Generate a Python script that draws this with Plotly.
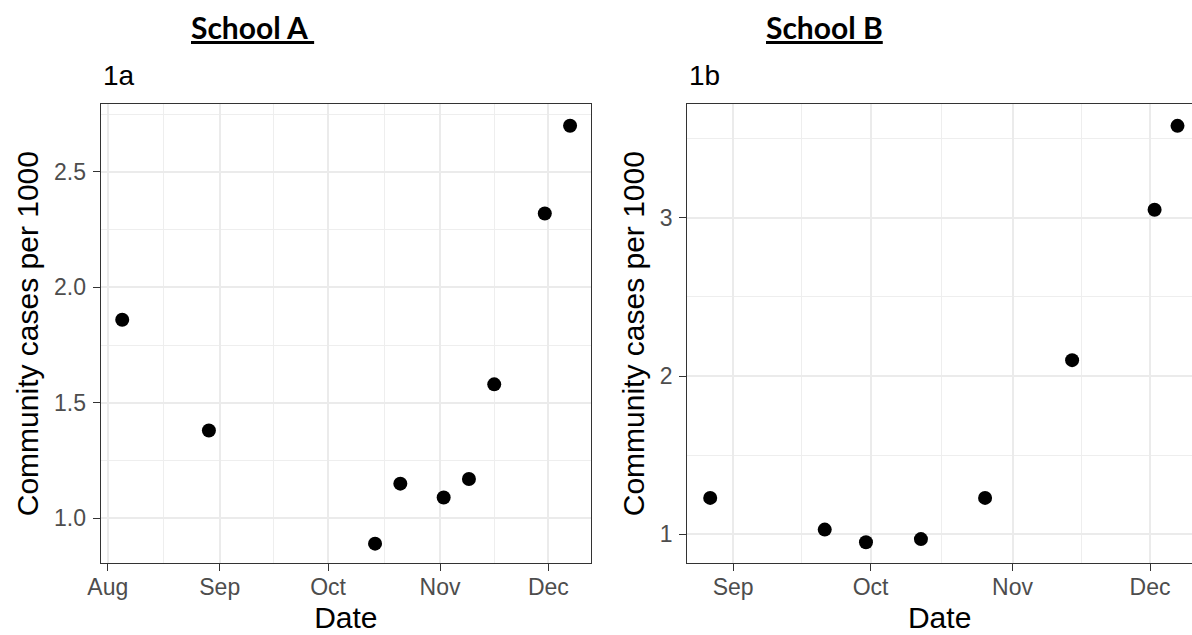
import pandas as pd
import plotly.graph_objects as go

# Weekly community case rates (cases per 1000) around each school
school_a_dates = ["2020-08-05", "2020-08-29", "2020-10-14", "2020-10-21", "2020-11-02",
                  "2020-11-09", "2020-11-16", "2020-11-30", "2020-12-07"]
school_a_cases = [1.86, 1.38, 0.89, 1.15, 1.09, 1.17, 1.58, 2.32, 2.70]

school_b_dates = ["2020-08-27", "2020-09-21", "2020-09-30", "2020-10-12", "2020-10-26",
                  "2020-11-14", "2020-12-02", "2020-12-07"]
school_b_cases = [1.23, 1.03, 0.95, 0.97, 1.23, 2.10, 3.05, 3.58]

month_starts = ["2020-08-01", "2020-09-01", "2020-10-01", "2020-11-01", "2020-12-01"]
month_labels = ["Aug", "Sep", "Oct", "Nov", "Dec"]

a_y_ticks = [1.0, 1.5, 2.0, 2.5]
a_y_labels = ["1.0", "1.5", "2.0", "2.5"]
b_y_ticks = [1, 2, 3]
b_y_labels = ["1", "2", "3"]

W, H = 1192, 635


def fx(px):
    return px / W


def fy(py):
    return 1 - py / H


# minor breaks halfway between major ones (ggplot style)
ms = pd.to_datetime(["2020-07-01"] + month_starts + ["2021-01-01"])
x_minor = [(ms[i] + (ms[i + 1] - ms[i]) / 2).strftime("%Y-%m-%d %H:%M") for i in range(len(ms) - 1)]


def y_minor(ticks):
    step = ticks[1] - ticks[0]
    vals = [t + step / 2 for t in ticks]
    return [ticks[0] - step / 2] + vals


TXT = "Liberation Sans, Arial, sans-serif"
GRID = "#EBEBEB"
DARK = "#333333"

axis_common = dict(
    showline=True, linecolor=DARK, linewidth=1.3,
    ticks="outside", ticklen=7, tickwidth=1.3, tickcolor=DARK,
    showgrid=True, gridcolor=GRID, gridwidth=1.8, zeroline=False,
    tickfont=dict(family=TXT, size=23, color="#4D4D4D"),
    automargin=False,
)
minor_grid = dict(showgrid=True, gridcolor="#EEEEEE", gridwidth=1.0, ticks="")
title_font = dict(family=TXT, size=30, color="black")

fig = go.Figure()
fig.add_trace(go.Scatter(x=school_a_dates, y=school_a_cases, mode="markers",
                         marker=dict(size=14, color="black"), xaxis="x", yaxis="y",
                         showlegend=False))
fig.add_trace(go.Scatter(x=school_b_dates, y=school_b_cases, mode="markers",
                         marker=dict(size=14, color="black"), xaxis="x2", yaxis="y2",
                         showlegend=False))

y_dom = [fy(563.3), fy(104)]

fig.update_layout(
    width=W, height=H,
    margin=dict(l=0, r=0, t=0, b=0),
    paper_bgcolor="white", plot_bgcolor="white",
    xaxis=dict(**axis_common, type="date", domain=[fx(100.7), fx(591)], anchor="y",
               range=["2020-07-30 01:00", "2020-12-12 19:00"], mirror=True,
               tickmode="array", tickvals=month_starts, ticktext=month_labels,
               ticklabelstandoff=-4,
               minor=dict(tickvals=x_minor, **minor_grid),
               title=dict(text="Date", font=title_font, standoff=7)),
    yaxis=dict(**axis_common, domain=y_dom, anchor="x", range=[0.805, 2.794], mirror=True,
               tickmode="array", tickvals=a_y_ticks, ticktext=a_y_labels,
               ticklabelstandoff=2,
               minor=dict(tickvals=y_minor(a_y_ticks), **minor_grid),
               title=dict(text="Community cases per 1000", font=title_font, standoff=6)),
    xaxis2=dict(**axis_common, type="date", domain=[fx(687.3), 1.0], anchor="y2",
                range=["2020-08-22 00:00", "2020-12-10 04:00"], mirror=True,
                tickmode="array", tickvals=month_starts, ticktext=month_labels,
                ticklabelstandoff=-4,
                minor=dict(tickvals=x_minor, **minor_grid),
                title=dict(text="Date", font=title_font, standoff=7)),
    yaxis2=dict(**axis_common, domain=y_dom, anchor="x2", range=[0.817, 3.718], mirror=False,
                tickmode="array", tickvals=b_y_ticks, ticktext=b_y_labels,
                ticklabelstandoff=2,
                minor=dict(tickvals=y_minor(b_y_ticks), **minor_grid),
                title=dict(text="Community cases per 1000", font=title_font, standoff=6)),
)

head_font = dict(family="Lato, Carlito, sans-serif", size=30, color="black")
fig.add_annotation(text="<b><u>School A&nbsp;</u></b>", x=fx(252), y=fy(27), xref="paper", yref="paper",
                   xanchor="center", yanchor="middle", showarrow=False, font=head_font)
fig.add_annotation(text="<b><u>School B</u></b>", x=fx(824), y=fy(27), xref="paper", yref="paper",
                   xanchor="center", yanchor="middle", showarrow=False, font=head_font)
fig.add_annotation(text="1a", x=fx(100.7), y=fy(75), xref="paper", yref="paper",
                   xanchor="left", yanchor="middle", showarrow=False,
                   font=dict(family=TXT, size=28, color="black"))
fig.add_annotation(text="1b", x=fx(687.3), y=fy(75), xref="paper", yref="paper",
                   xanchor="left", yanchor="middle", showarrow=False,
                   font=dict(family=TXT, size=28, color="black"))

fig.write_html("out.html")
